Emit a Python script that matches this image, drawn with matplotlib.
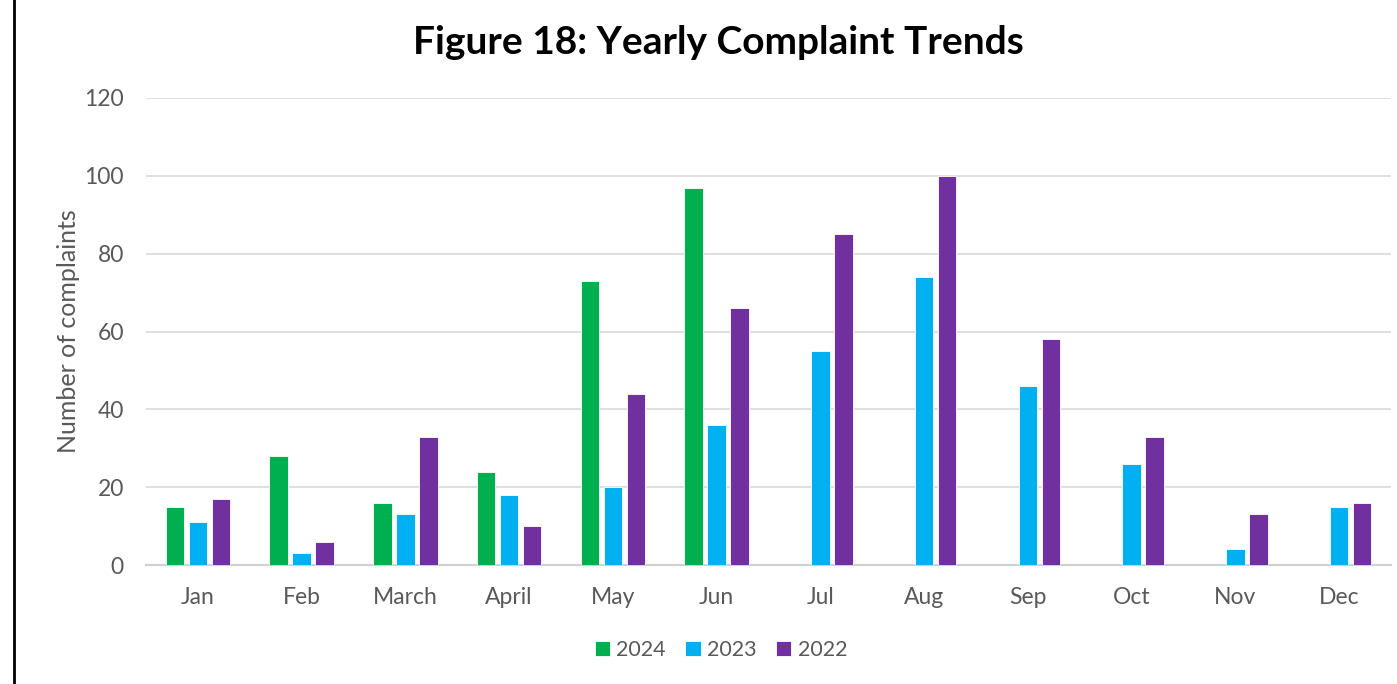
import matplotlib
matplotlib.use("Agg")
import matplotlib.pyplot as plt
import numpy as np
from matplotlib.lines import Line2D

months = ["Jan", "Feb", "March", "April", "May", "Jun", "Jul", "Aug", "Sep", "Oct", "Nov", "Dec"]
series_names = ["2024", "2023", "2022"]
v2024 = [15, 28, 16, 24, 73, 97, 0, 0, 0, 0, 0, 0]
v2023 = [11, 3, 13, 18, 20, 36, 55, 74, 46, 26, 4, 15]
v2022 = [17, 6, 33, 10, 44, 66, 85, 100, 58, 33, 13, 16]
colors = ["#00B050", "#00B0F0", "#7030A0"]
yticks = [0, 20, 40, 60, 80, 100, 120]

plt.rcParams['font.family'] = ['Lato', 'DejaVu Sans']

fig = plt.figure(figsize=(13.97, 6.84), dpi=100)
ax = fig.add_axes([146/1397, 1-565/684, (1391-146)/1397, (565-98)/684])

x = np.arange(len(months))
w = 0.18
off = 0.222
for i, (vals, c, n) in enumerate(zip([v2024, v2023, v2022], colors, series_names)):
    ax.bar(x + (i-1)*off, vals, width=w, color=c, edgecolor="white", linewidth=0.6, label=n, zorder=3)

ax.set_xlim(-0.5, len(months)-0.5)
ax.set_ylim(0, 120)
ax.set_yticks(yticks)
ax.set_xticks(x)
ax.set_xticklabels(months)
ax.tick_params(axis='both', length=0, labelsize=16.5, colors="#595959")
ax.tick_params(axis='x', pad=15.5)
ax.tick_params(axis='y', pad=16)
ax.grid(axis='y', color="#d9d9d9", linewidth=1.2, zorder=0)
for s in ["top", "right", "left"]:
    ax.spines[s].set_visible(False)
ax.spines["bottom"].set_color("#d0d0d0")
ax.spines["bottom"].set_linewidth(1.5)

ax.set_ylabel("Number of complaints", fontsize=18, color="#595959", labelpad=3)

fig.text(718/1397, 1-42/684, "Figure 18: Yearly Complaint Trends", ha="center", va="center",
         fontsize=28, fontweight="bold", color="black")

leg = fig.legend(loc="center", bbox_to_anchor=(721/1397, 1-650/684), ncol=3, frameon=False,
                 fontsize=15.5, handlelength=0.7, handleheight=0.7, handletextpad=0.3,
                 columnspacing=0.9)
for t in leg.get_texts():
    t.set_color("#595959")

fig.add_artist(Line2D([14/1397, 14/1397], [0, 1], color="black", linewidth=2, transform=fig.transFigure))

fig.savefig("out.png", dpi=100)
